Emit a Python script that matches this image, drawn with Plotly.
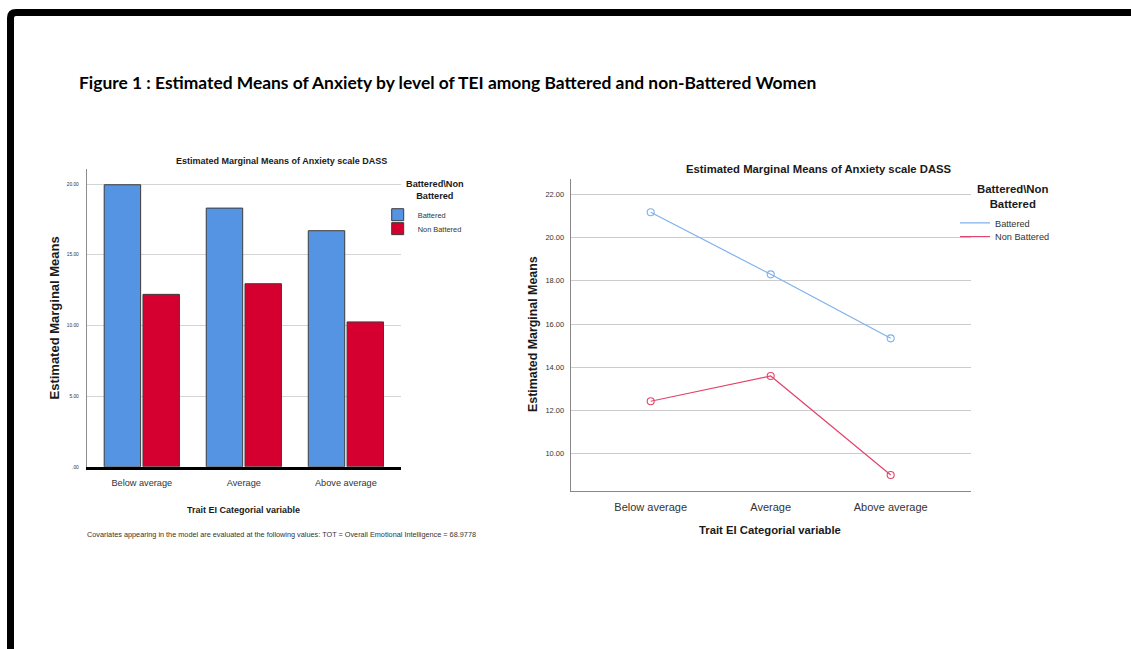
import plotly.graph_objects as go

# ---- data -------------------------------------------------------------
categories = ["Below average", "Average", "Above average"]

# bar chart (left panel)
bar_battered = [19.95, 18.30, 16.70]
bar_non_battered = [12.20, 12.95, 10.25]
bar_ticks = [0, 5, 10, 15, 20]
bar_tick_text = [".00", "5.00", "10.00", "15.00", "20.00"]

# line chart (right panel)
line_battered = [21.17, 18.30, 15.34]
line_non_battered = [12.43, 13.60, 9.02]
line_ticks = [10, 12, 14, 16, 18, 20, 22]
line_tick_text = ["10.00", "12.00", "14.00", "16.00", "18.00", "20.00", "22.00"]

series_names = ["Battered", "Non Battered"]

# ---- page geometry (pixels -> paper fractions) ------------------------
W, H = 1131, 649


def px(x):
    return x / W


def py(y):
    return 1 - y / H


ARIAL = "Liberation Sans, Arial, sans-serif"

BLUE_BAR = "#5593e3"
RED_BAR = "#d5002f"
BLUE_LINE = "#7fb1ee"
RED_LINE = "#e2466c"

fig = go.Figure()

# ---- left panel: clustered bars --------------------------------------
fig.add_trace(go.Bar(
    x=categories, y=bar_battered, name=series_names[0],
    marker=dict(color=BLUE_BAR, line=dict(color="#3c3c3c", width=1)),
    xaxis="x", yaxis="y", legend="legend",
))
fig.add_trace(go.Bar(
    x=categories, y=bar_non_battered, name=series_names[1],
    marker=dict(color=RED_BAR, line=dict(color="#3c3c3c", width=1)),
    xaxis="x", yaxis="y", legend="legend2",
))

# ---- right panel: profile lines ---------------------------------------
for vals, name, col, leg in [
    (line_battered, series_names[0], BLUE_LINE, "legend3"),
    (line_non_battered, series_names[1], RED_LINE, "legend4"),
]:
    fig.add_trace(go.Scatter(
        x=categories, y=vals, name=name, mode="lines",
        line=dict(color=col, width=1.2),
        xaxis="x2", yaxis="y2", legend=leg,
    ))
    fig.add_trace(go.Scatter(
        x=categories, y=vals, name=name, mode="markers", showlegend=False,
        marker=dict(symbol="circle-open", size=7, color=col,
                    line=dict(width=1.1, color=col)),
        xaxis="x2", yaxis="y2",
    ))

fig.update_layout(
    width=W, height=H,
    margin=dict(l=0, r=0, t=0, b=0),
    paper_bgcolor="white", plot_bgcolor="white",
    barmode="group", bargap=0.24, bargroupgap=0.06,
    xaxis=dict(
        domain=[px(86.7), px(401)], anchor="y",
        type="category", range=[-0.54, 2.54],
        showline=True, linecolor="#000000", linewidth=3,
        showgrid=False, ticks="", ticklabelstandoff=5,
        tickfont=dict(family=ARIAL, size=9.2, color="#333333"),
        fixedrange=True,
    ),
    yaxis=dict(
        domain=[py(469), py(170)], anchor="x",
        range=[0, 21.05], tickvals=bar_ticks, ticktext=bar_tick_text,
        showline=True, linecolor="#8c8c8c", linewidth=1,
        showgrid=True, gridcolor="#d4d4d4", gridwidth=1.3,
        zeroline=False, ticks="", ticklabelstandoff=6,
        tickfont=dict(family=ARIAL, size=4.8, color="#333333"),
        fixedrange=True,
    ),
    xaxis2=dict(
        domain=[px(570.7), px(970.7)], anchor="y2",
        type="category", range=[-0.667, 2.667],
        showline=True, linecolor="#888888", linewidth=1,
        showgrid=False, ticks="", ticklabelstandoff=6,
        tickfont=dict(family=ARIAL, size=11, color="#333333"),
        fixedrange=True,
    ),
    yaxis2=dict(
        domain=[py(493.3), py(180)], anchor="x2",
        range=[8.28, 22.7], tickvals=line_ticks, ticktext=line_tick_text,
        showline=True, linecolor="#888888", linewidth=1,
        showgrid=True, gridcolor="#cccccc", gridwidth=1.3,
        zeroline=False, ticks="", ticklabelstandoff=4,
        tickfont=dict(family=ARIAL, size=7.5, color="#333333"),
        fixedrange=True,
    ),
)

# one single-entry legend per series so every entry sits where it belongs
legend_common = dict(xanchor="left", yanchor="middle", bgcolor="rgba(0,0,0,0)",
                     borderwidth=0, itemclick=False, itemdoubleclick=False)
fig.update_layout(
    legend=dict(x=px(377.7), y=py(215.7),
                font=dict(family=ARIAL, size=7.4, color="#333333"), **legend_common),
    legend2=dict(x=px(377.7), y=py(229.7),
                 font=dict(family=ARIAL, size=7.4, color="#333333"), **legend_common),
    legend3=dict(x=px(955), y=py(224),
                 font=dict(family=ARIAL, size=9.2, color="#333333"), **legend_common),
    legend4=dict(x=px(955), y=py(237.7),
                 font=dict(family=ARIAL, size=9.2, color="#333333"), **legend_common),
)

annotations = [
    # figure caption
    dict(text="<b>Figure 1 : Estimated Means of Anxiety by level of TEI among Battered and non-Battered Women</b>",
         x=px(77), y=py(83), xanchor="left", yanchor="middle",
         font=dict(family="Lato, sans-serif", size=17.4, color="#000000")),
    # left panel texts
    dict(text="<b>Estimated Marginal Means of Anxiety scale DASS</b>",
         x=px(281.7), y=py(162), xanchor="center", yanchor="middle",
         font=dict(family=ARIAL, size=9.0, color="#1a1a1a")),
    dict(text="<b>Trait EI Categorial variable</b>",
         x=px(243.5), y=py(512), xanchor="center", yanchor="middle",
         font=dict(family=ARIAL, size=9.0, color="#1a1a1a")),
    dict(text="<b>Estimated Marginal Means</b>", textangle=-90,
         x=px(55), y=py(320), xanchor="center", yanchor="middle",
         font=dict(family=ARIAL, size=13, color="#1a1a1a")),
    dict(text="<b>Battered\\Non<br>Battered</b>",
         x=px(434.5), y=py(191), xanchor="center", yanchor="middle",
         font=dict(family=ARIAL, size=9.2, color="#1a1a1a")),
    dict(text="Covariates appearing in the model are evaluated at the following values: TOT = Overall Emotional Intelligence = 68.9778",
         x=px(281.7), y=py(537), xanchor="center", yanchor="middle",
         font=dict(family=ARIAL, size=7.3, color="#333333")),
    # right panel texts
    dict(text="<b>Estimated Marginal Means of Anxiety scale DASS</b>",
         x=px(818.5), y=py(170), xanchor="center", yanchor="middle",
         font=dict(family=ARIAL, size=11.3, color="#1a1a1a")),
    dict(text="<b>Trait EI Categorial variable</b>",
         x=px(770.5), y=py(532.5), xanchor="center", yanchor="middle",
         font=dict(family=ARIAL, size=11.3, color="#1a1a1a")),
    dict(text="<b>Estimated Marginal Means</b>", textangle=-90,
         x=px(533), y=py(335.5), xanchor="center", yanchor="middle",
         font=dict(family=ARIAL, size=12.4, color="#1a1a1a")),
    dict(text="<b>Battered\\Non<br>Battered</b>",
         x=px(1012.5), y=py(197.8), xanchor="center", yanchor="middle",
         font=dict(family=ARIAL, size=11.4, color="#1a1a1a")),
]
for a in annotations:
    a.update(xref="paper", yref="paper", showarrow=False)
fig.update_layout(annotations=annotations)

# heavy page frame along the top and left edges
fig.add_shape(
    type="path", xref="paper", yref="paper",
    path=(f"M {px(10.5)} {py(660)} L {px(10.5)} {py(18)} "
          f"Q {px(10.5)} {py(12.5)} {px(16)} {py(12.5)} L {px(1140)} {py(12.5)}"),
    line=dict(color="#000000", width=7),
)

fig.write_html("out.html")
